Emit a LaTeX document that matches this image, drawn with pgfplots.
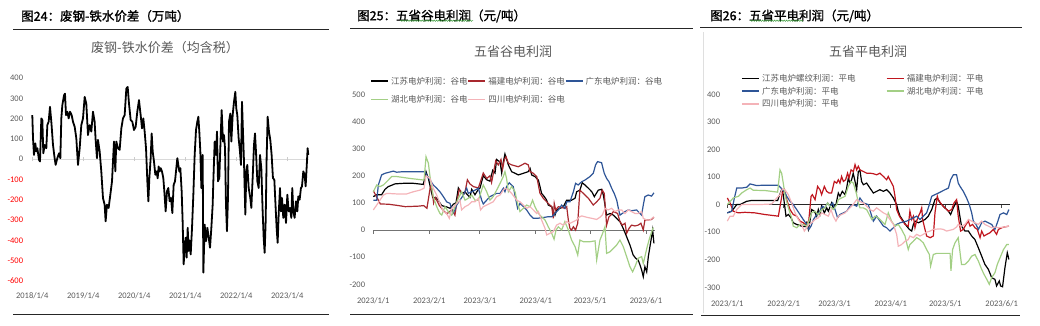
\documentclass[border=0pt]{standalone}
\usepackage{fontspec}
\setmainfont{Carlito}
\newfontfamily\cjk{Noto Sans CJK SC}
\newfontfamily\cjkb[FakeBold=1.4]{Noto Sans CJK SC}
\usepackage{pgfplots}
\pgfplotsset{compat=1.18}
\usetikzlibrary{decorations.pathmorphing}
\definecolor{labgray}{HTML}{595959}
\definecolor{c1red}{HTML}{A8282E}
\definecolor{c3red}{HTML}{C0161E}
\definecolor{cblue}{HTML}{2E5597}
\definecolor{cgreen}{HTML}{A3CF85}
\definecolor{cpink}{HTML}{F4B3B8}
\definecolor{squig}{HTML}{3A9A3A}
\newcommand\numfont{\fontsize{8.5}{10}\selectfont}
\newcommand\legfont{\cjk\fontsize{8.5}{10}\selectfont}
\newcommand\hdfont{\cjkb\fontsize{12.5}{14}\selectfont}
\newcommand\ttfont{\cjk\fontsize{13}{15}\selectfont}
\pgfplotsset{
  panel/.style={scale only axis, anchor=south west,
    axis line style={draw=none}, tick style={draw=none}, major tick length=0pt,
    yticklabel style={font=\numfont, text=labgray, anchor=east, inner sep=0pt},
    xticklabel style={font=\numfont, text=labgray, anchor=center, inner sep=0pt},
    clip=false, legend cell align=left,
    legend image code/.code={\draw[##1, line width=1.8pt] (0pt,0pt) -- (17pt,0pt);},
  },
}
\begin{document}
\begin{tikzpicture}
\path[use as bounding box] (0,0) rectangle (1040pt,325pt);
% ---------- headers and rules ----------
\node[anchor=west, inner sep=0pt, font=\hdfont] at (21pt,309pt) {图24：废钢-铁水价差（万吨）};
\node[anchor=west, inner sep=0pt, font=\hdfont] at (357pt,309pt) {图25：五省谷电利润（元/吨）};
\node[anchor=west, inner sep=0pt, font=\hdfont] at (710pt,309pt) {图26：五省平电利润（元/吨）};
\draw[squig, line width=0.5pt, decorate, decoration={zigzag, segment length=2.4pt, amplitude=0.7pt}] (400pt,304.3pt) -- (473pt,304.3pt);
\draw[squig, line width=0.5pt, decorate, decoration={zigzag, segment length=2.4pt, amplitude=0.7pt}] (750pt,304.3pt) -- (803pt,304.3pt);
\draw[black!85, line width=1pt] (13pt,296pt) -- (329pt,296pt);
\draw[black!85, line width=1pt] (13pt,11pt) -- (329pt,11pt);
\draw[black!85, line width=1pt] (350pt,297pt) -- (693pt,297pt);
\draw[black!85, line width=1pt] (350pt,11pt) -- (693pt,11pt);
\draw[black!85, line width=1pt] (700pt,298pt) -- (1022pt,298pt);
\draw[black!85, line width=1pt] (701pt,10pt) -- (1020pt,10pt);
\draw[gray!25, line width=0.6pt] (703pt,12pt) -- (703pt,293pt);
% ---------- titles ----------
\node[font=\ttfont, text=labgray, inner sep=0pt] at (165pt,277pt) {废钢-铁水价差（均含税）};
\node[font=\ttfont, text=labgray, inner sep=0pt] at (513pt,273pt) {五省谷电利润};
\node[font=\ttfont, text=labgray, inner sep=0pt] at (868pt,273pt) {五省平电利润};

% ================= Panel 1 =================
\begin{axis}[panel, at={(32.3pt,44pt)}, width=276.4pt, height=203pt,
  xmin=0, xmax=5.42, ymin=-600, ymax=400,
  ytick={-600,-500,-400,-300,-200,-100,0,100,200,300,400},
  yticklabels={\textcolor{red}{-600},\textcolor{red}{-500},\textcolor{red}{-400},\textcolor{red}{-300},\textcolor{red}{-200},\textcolor{red}{-100},0,100,200,300,400},
  yticklabel style={xshift=-9pt},
  xtick={0,1,2,3,4,5},
  xticklabels={2018/1/4,2019/1/4,2020/1/4,2021/1/4,2022/1/4,2023/1/4},
  xticklabel style={yshift=-15pt}]
\draw[gray!30, line width=0.8pt] (axis cs:0,0) -- (axis cs:5.42,0);
\pgfplotsinvokeforeach{0,1,2,3,4,5}{\draw[gray!40, line width=0.6pt] (axis cs:#1,0) ++(0pt,-2pt) -- ++(0pt,4pt);}
\addplot[black, line width=1.8pt, line join=round] coordinates {
(0.00,217) (0.014,103) (0.033,21) (0.059,78) (0.079,38) (0.099,54) (0.131,-3) (0.151,-11) (0.177,201) (0.197,193) (0.216,29) (0.242,70) (0.275,54) (0.295,168) (0.321,185) (0.347,258) (0.373,185) (0.406,70) (0.438,5) (0.458,-28) (0.491,5) (0.524,29) (0.550,5) (0.569,201) (0.589,266) (0.622,315) (0.641,323) (0.661,217) (0.687,234) (0.713,201) (0.740,234) (0.772,217) (0.798,185) (0.831,160) (0.863,103) (0.896,-28) (0.929,54) (0.961,168) (0.994,201) (1.027,307) (1.059,274) (1.092,119) (1.125,168) (1.157,136) (1.190,234) (1.222,185) (1.242,95) (1.268,5) (1.288,95) (1.321,38) (1.353,-60) (1.386,-191) (1.418,-224) (1.438,-306) (1.464,-224) (1.497,-240) (1.530,-175) (1.563,-109) (1.582,-11) (1.602,87) (1.628,-60) (1.647,87) (1.680,54) (1.713,46) (1.746,152) (1.778,201) (1.811,217) (1.844,348)
(1.870,356) (1.896,274) (1.929,193) (1.961,185) (1.994,144) (2.027,160) (2.059,234) (2.092,291) (2.125,217) (2.151,152) (2.177,201) (2.203,136) (2.230,54) (2.256,-109) (2.276,-207) (2.295,-94) (2.321,5) (2.341,127) (2.361,38) (2.386,-11) (2.413,-77) (2.439,-60) (2.458,-94) (2.478,-36) (2.497,-60) (2.517,-44) (2.543,-60) (2.569,-93) (2.589,-158) (2.615,-257) (2.641,-158) (2.667,-142) (2.693,-207) (2.720,-190) (2.746,-265) (2.772,-126) (2.798,-109) (2.818,-60) (2.844,5) (2.863,-28) (2.883,-60) (2.903,-44) (2.929,-158) (2.948,-306) (2.968,-518) (2.988,-436) (3.007,-387) (3.027,-485) (3.047,-338) (3.066,-452) (3.086,-400) (3.106,-469) (3.132,-338) (3.158,-175) (3.184,21) (3.210,144) (3.236,185) (3.256,209) (3.275,136) (3.295,38) (3.315,-142) (3.341,21) (3.354,-559) (3.380,-322) (3.406,-404) (3.433,-338) (3.459,-387) (3.485,-436) (3.511,-338) (3.537,-224)
(3.550,-109) (3.576,87) (3.602,21) (3.622,136) (3.641,-109) (3.667,-93) (3.693,103) (3.713,242) (3.739,87) (3.759,119) (3.779,54) (3.798,-224) (3.817,-355) (3.837,-191) (3.857,185) (3.883,225) (3.903,87) (3.929,217) (3.955,283) (3.981,332) (4.000,250) (4.020,217) (4.046,103) (4.072,38) (4.092,-28) (4.112,283) (4.131,136) (4.151,-11) (4.177,-273) (4.197,-60) (4.216,-28) (4.243,-142) (4.275,-191) (4.295,-240) (4.321,-93) (4.347,70) (4.367,127) (4.386,38) (4.413,-109) (4.439,-142) (4.465,21) (4.491,-44) (4.517,-257) (4.537,-387) (4.556,-461) (4.576,-306) (4.595,5) (4.615,209) (4.641,136) (4.667,95) (4.693,21) (4.719,-93) (4.746,-101) (4.772,-240) (4.791,-338) (4.811,-412) (4.831,-273) (4.857,-142) (4.876,-257) (4.896,-191) (4.922,-289) (4.948,-224) (4.975,-314) (5.001,-175) (5.027,-257) (5.053,-240) (5.079,-289) (5.098,-142) (5.118,-257) (5.144,-289) (5.171,-207) (5.197,-257) (5.216,-183) (5.242,-200) (5.268,-142) (5.288,-134) (5.314,-60) (5.340,-77) (5.360,-134) (5.379,-44) (5.399,54) (5.412,21)
};
\end{axis}

% ================= Panel 2 =================
\begin{axis}[panel, at={(373.3pt,40.7pt)}, width=281.7pt, height=190pt,
  xmin=0, xmax=156, ymin=-200, ymax=500,
  ytick={-200,-100,0,100,200,300,400,500},
  yticklabels={-200,-100,0,100,200,300,400,500},
  yticklabel style={xshift=-8pt},
  xtick={0,31,59,90,120,151},
  xticklabels={2023/1/1,2023/2/1,2023/3/1,2023/4/1,2023/5/1,2023/6/1},
  xticklabel style={yshift=-16.7pt},
  legend columns=3,
  legend style={at={(-0.0117,1.0924)}, anchor=north west, draw=none, fill=none, inner sep=0pt,
    font=\legfont, text=labgray, row sep=9.5pt, nodes={inner sep=0pt},
    /tikz/every odd column/.append style={column sep=2pt},
    /tikz/every even column/.append style={column sep=0pt}}]
\draw[black!55, line width=1pt] (axis cs:0,0) -- (axis cs:156,0);
\pgfplotsinvokeforeach{0,31,59,90,120,151}{\draw[black!55, line width=0.8pt] (axis cs:#1,0) -- ++(0pt,-3.5pt);}
\addplot[black, line width=1.2pt] coordinates {
(0,123) (1.9,130) (4.6,130) (6.5,150) (8.3,160) (10.2,165) (12.0,170) (16.6,172) (22.2,172) (27.7,168) (29.2,215) (30.5,190) (32.9,120) (35.1,118) (37.9,90) (40.6,85) (42.5,80) (44.3,95) (45.8,100) (47.1,155) (48.9,135) (50.8,140) (53.5,120) (54.5,150) (56.3,130) (58.2,150) (59.1,155) (60.9,200) (62.8,185) (64.6,180) (66.1,220) (67.4,210) (68.3,260) (70.2,250) (71.1,210) (72.0,250) (72.9,280) (74.8,240) (76.6,215) (78.5,209) (80.3,203) (83.1,209) (85.8,215) (86.8,227) (87.7,203) (89.5,197) (91.4,184) (92.3,160) (93.2,135) (94.7,123) (96.0,110) (96.9,92) (98.8,86) (99.7,68) (100.6,55) (101.5,74) (103.4,80) (105.3,86) (107.1,110) (109.8,110) (111.7,117) (112.6,141) (114.4,147) (115.7,174) (117.2,166) (119.1,154) (121.0,141) (122.4,123) (124.6,147) (126.4,150) (127.4,129) (128.3,92) (129.2,55) (131.1,61) (132.9,55) (134.7,43) (136.6,31) (138.4,6) (140.3,-25) (142.1,-55) (143.9,-92) (145.3,-104) (146.7,-111) (147.7,-129) (148.6,-147) (149.5,-172) (150.4,-135) (151.4,-154) (152.3,-98) (153.2,-61) (154.1,-25) (154.7,0) (155.4,-49)
};
\addlegendentry{江苏电炉利润：谷电}
\addplot[c1red, line width=1.2pt] coordinates {
(0,145) (3.9,96) (8.5,95) (14,90) (17.7,86) (25.1,88) (27.9,90) (29.7,80) (31.6,160) (32.5,150) (33.4,100) (34.3,120) (36.6,90) (39,70) (40.8,60) (43.6,75) (45.2,55) (46.2,100) (47.6,150) (49.9,130) (50.8,140) (52.1,185) (53.5,170) (55.4,160) (58.2,155) (60.9,210) (62.8,190) (64.6,200) (65.5,175) (67.8,255) (69.2,240) (70.7,260) (71.6,225) (72.6,260) (73.5,270) (74.8,246) (76.6,240) (80.3,233) (84.0,246) (85.8,240) (86.8,215) (88.6,209) (90.5,197) (91.4,166) (92.3,135) (94.1,117) (96.0,104) (97.8,92) (98.8,86) (99.7,43) (100.2,98) (101.0,74) (102.5,86) (106.1,80) (107.1,86) (108.0,37) (108.9,6) (109.8,0) (110.8,12) (112.0,0) (113.2,25) (114.4,147) (116.3,135) (119.1,117) (121.8,92) (123.7,104) (125.5,117) (126.8,147) (127.9,135) (129.2,18) (130.5,49) (131.6,55) (132.9,68) (135.3,61) (136.6,31) (137.9,18) (139.4,25) (140.3,-12) (141.6,6) (143.0,18) (144.9,15) (146.7,18) (148.2,25) (149.5,0) (150.4,37) (152.3,37) (154.1,39) (155.4,47)
};
\addlegendentry{福建电炉利润：谷电}
\addplot[cblue, line width=1.2pt] coordinates {
(0,110) (1.9,110) (2.8,166) (4.6,203) (6.5,209) (11.1,217) (12.9,213) (16.6,215) (28.6,215) (29.5,203) (31.4,184) (33.2,166) (35.1,154) (36.9,141) (38.8,123) (40.6,104) (42.5,98) (44.0,61) (45.2,74) (46.2,92) (48.0,110) (49.9,129) (51.7,154) (52.6,135) (54.5,141) (56.3,147) (58.2,154) (60.0,110) (60.9,96) (62.8,110) (64.6,123) (66.4,129) (68.3,135) (70.2,135) (72.0,154) (72.9,141) (73.8,160) (75.3,174) (77.5,160) (79.9,80) (81.2,98) (83.1,86) (84.9,74) (86.8,55) (88.6,43) (90.5,43) (93.2,45) (96.9,49) (98.8,49) (100.6,61) (102.5,74) (104.3,92) (106.1,80) (107.1,104) (108.9,104) (110.8,141) (112.0,172) (113.5,166) (115.4,178) (117.2,184) (120.0,197) (121.8,209) (123.1,240) (124.2,252) (126.4,248) (127.9,209) (129.2,190) (130.5,178) (132.0,154) (133.4,135) (134.8,110) (135.7,80) (136.6,55) (137.9,61) (139.4,68) (141.2,74) (143.0,71) (145.8,74) (147.7,61) (148.6,55) (149.5,92) (150.4,123) (152.3,129) (154.1,125) (155.4,137)
};
\addlegendentry{广东电炉利润：谷电}
\addplot[cgreen, line width=1.2pt] coordinates {
(0,141) (1.9,166) (3.7,160) (5.6,166) (8.3,184) (10.2,197) (12.9,197) (20.3,190) (28.1,184) (29.2,270) (30.5,246) (31.4,197) (33.2,123) (35.1,86) (36.9,61) (37.9,55) (39.7,86) (41.5,68) (43.4,55) (45.2,86) (47.1,117) (48.9,141) (50.8,110) (52.6,117) (54.5,129) (56.3,110) (58.2,110) (60.0,147) (60.9,166) (62.8,141) (64.6,110) (66.4,123) (68.3,147) (70.2,172) (72.0,197) (72.9,215) (73.8,190) (74.8,141) (76.6,160) (78.5,141) (79.4,110) (81.2,68) (83.1,80) (84.9,92) (86.8,86) (88.2,110) (89.5,86) (91.4,61) (93.2,49) (95.1,37) (96.9,12) (98.8,-12) (100.1,-34) (101.2,0) (102.5,12) (104.3,0) (106.1,31) (108.0,0) (109.8,-37) (111.7,-61) (113.2,-92) (114.4,-37) (116.3,-43) (120.0,-43) (122.8,-40) (123.7,-110) (125.5,-37) (127.0,-12) (128.3,12) (129.2,-86) (131.1,-80) (132.9,-68) (134.8,-55) (136.6,-37) (138.4,-61) (140.3,-98) (142.1,-135) (143.6,-154) (144.9,-135) (146.7,-104) (148.6,-98) (149.5,-123) (150.4,-98) (151.7,-61) (153.2,-25) (155.0,9)
};
\addlegendentry{湖北电炉利润：谷电}
\addplot[cpink, line width=1.2pt] coordinates {
(0,74) (1.9,92) (3.7,110) (5.6,129) (7.4,135) (12.9,133) (18.5,133) (22.2,141) (25.9,147) (28.1,154) (29.2,200) (31.4,190) (33.2,154) (35.1,129) (36.9,98) (38.8,68) (40.6,61) (42.1,43) (43.4,80) (44.7,86) (46.2,98) (48.0,110) (48.9,74) (50.8,86) (52.6,92) (54.5,104) (56.3,104) (58.2,117) (59.4,74) (60.9,86) (62.8,92) (64.6,98) (66.4,104) (68.3,123) (70.2,129) (72.0,147) (72.9,154) (74.8,147) (76.6,135) (79.4,110) (81.2,104) (83.1,92) (84.9,80) (86.8,86) (88.6,74) (90.5,61) (91.4,68) (93.2,37) (95.1,6) (96.0,-18) (97.8,-12) (99.7,-6) (101.5,18) (103.4,25) (105.2,18) (107.1,31) (109.0,25) (110.8,31) (112.6,37) (113.9,47) (115.4,52) (118.2,47) (121.0,43) (123.7,39) (125.5,47) (126.8,55) (128.3,80) (130.1,74) (131.9,80) (133.8,68) (135.7,74) (137.5,74) (139.4,61) (141.2,74) (143.0,68) (144.9,61) (146.7,61) (148.6,68) (149.5,43) (151.4,37) (153.2,37) (155.4,49)
};
\addlegendentry{四川电炉利润：谷电}
\end{axis}

% ================= Panel 3 =================
\begin{axis}[panel, at={(727.3pt,37.7pt)}, width=282.7pt, height=193pt,
  xmin=0, xmax=155.6, ymin=-300, ymax=400,
  ytick={-300,-200,-100,0,100,200,300,400},
  yticklabels={-300,-200,-100,0,100,200,300,400},
  yticklabel style={xshift=-7pt},
  xtick={0,31,59,90,120,151},
  xticklabels={2023/1/1,2023/2/1,2023/3/1,2023/4/1,2023/5/1,2023/6/1},
  xticklabel style={yshift=-16.7pt},
  legend columns=2,
  legend style={at={(0.0474,1.1049)}, anchor=north west, draw=none, fill=none, inner sep=0pt,
    font=\legfont, text=labgray, row sep=4pt, nodes={inner sep=0pt},
    /tikz/every odd column/.append style={column sep=2.4pt},
    /tikz/every even column/.append style={column sep=30pt}}]
\draw[black!85, line width=0.9pt] (axis cs:0,0) -- (axis cs:155.6,0);
\pgfplotsinvokeforeach{0,31,59,90,120,151}{\draw[black!70, line width=0.7pt] (axis cs:#1,0) -- ++(0pt,-3.5pt);}
\addplot[black, line width=1.2pt] coordinates {
(0,-30) (2.4,-24) (5.2,0) (7.0,0) (8.8,6) (10.7,12) (13.4,15) (27.7,15) (28.5,30) (29.9,54) (30.8,36) (32.3,-42) (33.6,-36) (35.1,-48) (36.3,-66) (38.2,-72) (40.9,-78) (42.8,-80) (43.7,-66) (44.6,-90) (45.5,-60) (46.4,-18) (47.9,-24) (49.2,-42) (50.1,-18) (51.0,-36) (51.9,-6) (53.4,-30) (54.7,-12) (55.6,-24) (57.4,6) (58.3,-12) (59.8,0) (61.1,42) (62.0,30) (63.3,48) (64.8,36) (65.7,60) (66.6,96) (67.5,78) (68.4,90) (69.3,114) (70.3,84) (71.2,54) (72.1,120) (73.0,124) (73.9,84) (74.9,72) (76.7,78) (78.5,60) (80.4,42) (82.2,48) (84.0,54) (85.9,48) (87.7,54) (89.5,42) (91.4,24) (93.2,0) (94.1,-24) (95.1,-42) (96.9,-60) (98.7,-78) (100.2,-90) (101.5,-96) (102.4,-72) (103.4,-60) (105.2,-66) (107.0,-60) (108.8,-54) (110.6,-42) (112.5,-18) (114.3,18) (115.6,24) (117.1,6) (119.8,-12) (121.7,-24) (122.9,-36) (124.4,-12) (126.2,12) (127.1,-6) (128.9,-78) (130.8,-96) (132.7,-96) (134.5,-114) (136.3,-127) (138.2,-157) (140.0,-187) (141.8,-217) (143.7,-235) (145.5,-265) (147.3,-271) (148.2,-295) (149.7,-277) (150.4,-295) (151.5,-298) (152.8,-229) (154.1,-175) (155.0,-199)
};
\addlegendentry{江苏电炉螺纹利润：平电}
\addplot[c3red, line width=1.2pt] coordinates {
(0,24) (1.5,6) (3.3,-24) (6.1,-30) (9.7,-28) (15.2,-30) (20.7,-36) (24.4,-39) (28.1,-42) (30.3,42) (31.4,54) (32.7,18) (34.5,-18) (36.3,-36) (38.2,-42) (40.0,-60) (41.8,-66) (43.7,-78) (44.9,-54) (46.1,30) (46.8,36) (48.3,18) (49.7,66) (51.0,54) (51.9,36) (53.4,66) (54.7,48) (56.0,42) (57.4,42) (58.9,84) (60.2,78) (61.1,90) (62.0,78) (62.9,102) (63.9,84) (65.1,90) (66.2,114) (67.0,96) (68.1,126) (69.4,120) (70.3,145) (71.2,126) (72.1,139) (73.0,126) (74.9,120) (76.7,114) (78.5,114) (80.4,112) (82.2,108) (84.0,114) (85.9,102) (87.7,90) (88.6,102) (89.5,90) (91.4,66) (92.3,30) (93.2,-18) (94.7,-42) (95.9,-54) (97.8,-72) (99.6,-78) (100.5,-24) (101.5,-54) (102.4,-42) (103.3,-84) (104.2,-60) (105.2,-42) (106.1,-30) (107.0,-12) (107.5,-54) (108.8,-90) (109.7,-114) (111.6,-120) (113.4,-114) (114.3,-30) (115.6,30) (116.1,18) (118.0,0) (119.8,-12) (121.7,-24) (123.5,-18) (124.8,6) (126.2,18) (127.1,-42) (128.4,-96) (129.9,-90) (131.4,-72) (132.7,-60) (133.6,-78) (135.0,-72) (136.3,-84) (137.6,-90) (139.1,-120) (140.0,-96) (141.3,-114) (142.8,-108) (144.6,-102) (146.4,-90) (148.2,-108) (149.2,-90) (151.0,-84) (152.8,-81) (155.0,-78)
};
\addlegendentry{福建电炉利润：平电}
\addplot[cblue, line width=1.2pt] coordinates {
(0,-30) (2.4,-24) (3.9,24) (5.2,60) (7.9,60) (10.7,63) (12.5,75) (14.3,72) (16.2,69) (18.9,70) (28.1,70) (29.6,60) (31.4,48) (32.7,30) (34.5,12) (36.3,0) (38.2,-18) (40.0,-36) (41.8,-54) (43.7,-72) (44.9,-90) (46.1,-78) (47.4,-54) (49.2,-36) (51.0,-24) (52.3,-6) (53.8,-12) (55.2,6) (56.5,-6) (58.0,6) (59.3,-18) (60.7,-48) (62.0,-36) (63.9,-30) (65.7,-24) (67.5,-6) (69.4,0) (71.2,-6) (73.0,24) (74.9,6) (77.6,0) (79.5,-42) (80.4,-60) (82.2,-42) (84.0,-60) (85.9,-78) (87.7,-84) (89.5,-96) (91.4,-84) (93.2,-72) (95.1,-66) (98.7,-60) (100.5,-54) (102.4,-48) (104.2,-42) (106.1,-54) (107.9,-42) (109.7,-30) (111.2,0) (112.5,30) (114.3,36) (116.2,42) (118.0,48) (119.8,54) (121.7,60) (122.9,90) (124.4,108) (126.2,108) (127.1,78) (128.1,66) (129.9,48) (131.7,24) (133.2,0) (134.5,-30) (135.4,-60) (136.9,-72) (138.2,-90) (140.0,-66) (141.8,-60) (143.7,-66) (145.5,-72) (147.3,-90) (148.6,-66) (150.1,-36) (152.0,-30) (153.8,-36) (155.0,-18)
};
\addlegendentry{广东电炉利润：平电}
\addplot[cgreen, line width=1.2pt] coordinates {
(0,0) (3.3,24) (6.1,30) (7.9,42) (10.7,54) (12.5,60) (14.3,52) (20.7,51) (24.4,48) (27.7,45) (29.0,126) (29.9,114) (30.8,78) (31.7,36) (33.6,-12) (35.1,-42) (36.3,-78) (38.2,-84) (40.0,-72) (41.8,-72) (43.7,-78) (44.9,-60) (46.4,-30) (48.3,-24) (50.1,-36) (51.9,-18) (53.8,-12) (55.2,6) (56.5,-6) (58.3,-18) (60.2,0) (61.1,18) (62.9,24) (64.8,30) (65.7,48) (66.6,66) (68.1,84) (69.4,78) (71.2,36) (72.1,6) (73.0,-12) (74.9,-12) (76.7,-18) (79.5,-54) (81.3,-42) (83.1,-48) (84.9,-60) (86.8,-72) (88.6,-30) (90.4,-60) (92.3,-78) (94.1,-72) (95.9,-90) (97.8,-114) (99.6,-163) (100.5,-145) (102.4,-133) (104.2,-120) (106.0,-127) (107.9,-139) (109.7,-163) (111.2,-181) (111.9,-223) (113.4,-181) (115.2,-177) (122.6,-177) (123.1,-240) (124.0,-163) (125.3,-139) (127.1,-120) (128.9,-217) (130.8,-217) (132.7,-205) (134.5,-187) (136.3,-181) (138.2,-205) (140.0,-235) (141.3,-253) (142.8,-271) (144.2,-289) (145.5,-265) (147.3,-247) (148.6,-217) (150.1,-193) (152.0,-163) (153.8,-145) (155.0,-145)
};
\addlegendentry{湖北电炉利润：平电}
\addplot[cpink, line width=1.2pt] coordinates {
(0,-60) (1.5,-42) (3.3,-42) (5.2,-18) (7.9,0) (17.1,0) (24.4,2) (27.2,24) (29.0,36) (30.3,57) (31.7,54) (33.6,36) (35.4,6) (37.3,-30) (39.1,-54) (40.9,-72) (42.4,-96) (43.7,-84) (44.9,-72) (46.4,-66) (48.3,-54) (50.1,-48) (51.9,-30) (53.8,-36) (55.6,-42) (57.1,-18) (58.3,-42) (59.8,-60) (61.1,-42) (62.9,-36) (64.8,-30) (66.6,-18) (68.4,-6) (69.9,6) (71.2,18) (72.5,12) (74.9,6) (76.7,-6) (78.5,-18) (80.4,-24) (82.2,-12) (85.9,-30) (87.7,-36) (89.5,-54) (91.4,-72) (93.2,-108) (94.1,-151) (95.9,-145) (97.8,-133) (99.6,-127) (100.5,-114) (102.4,-120) (104.2,-108) (106.1,-114) (107.9,-108) (109.7,-100) (111.6,-96) (113.4,-90) (117.1,-88) (118.9,-90) (120.7,-96) (124.4,-90) (126.2,-81) (127.1,-72) (128.9,-78) (130.8,-72) (132.7,-54) (134.5,-60) (136.3,-66) (138.2,-72) (140.0,-60) (141.8,-72) (145.5,-84) (147.3,-81) (149.2,-84) (152.8,-81) (155.0,-78)
};
\addlegendentry{四川电炉利润：平电}
\end{axis}
\end{tikzpicture}
\end{document}
